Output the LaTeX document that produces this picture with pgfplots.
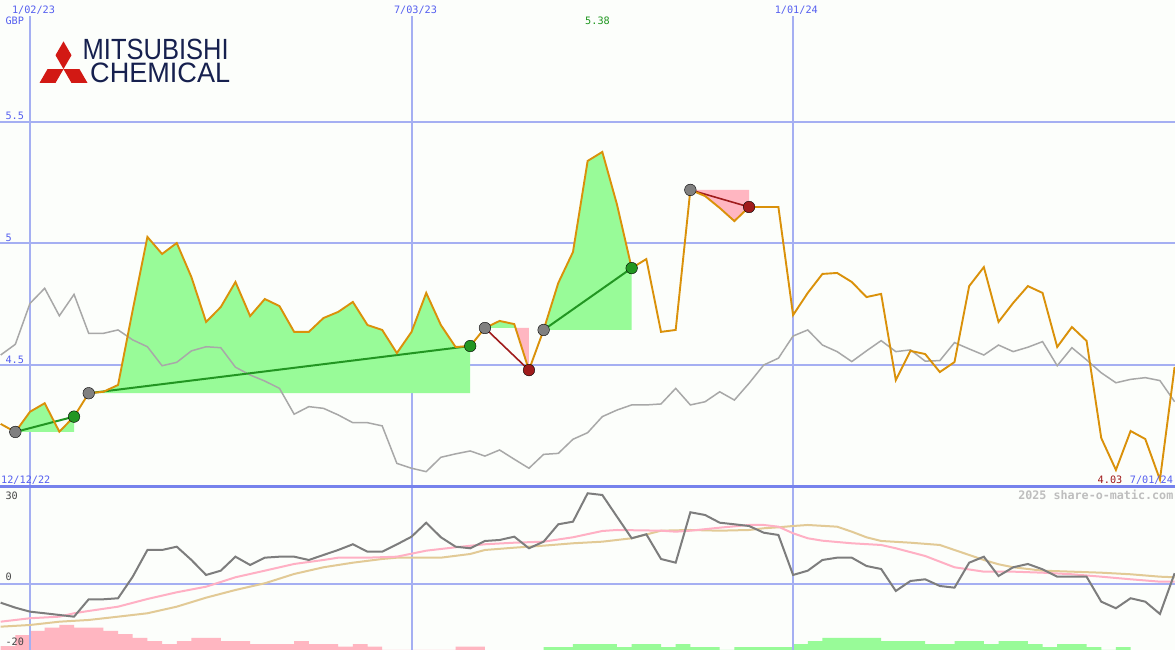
\documentclass[border=0pt]{standalone}
\usepackage{graphicx}
\usepackage{pgfplots}
\usepackage{pgfplotstable}
\pgfplotsset{compat=1.18}
\usepackage{fontspec}
\setmainfont{DejaVu Sans}
\newfontfamily\monofont{DejaVu Sans Mono}
\newfontfamily\logofont{Liberation Sans}

\definecolor{bg}{RGB}{252,254,251}
\definecolor{gridblue}{RGB}{165,175,242}
\definecolor{sepblue}{RGB}{118,130,236}
\definecolor{labelblue}{RGB}{85,95,240}
\definecolor{priceorange}{RGB}{218,145,10}
\definecolor{relgray}{RGB}{168,168,168}
\definecolor{gainfill}{RGB}{152,251,152}
\definecolor{lossfill}{RGB}{255,182,193}
\definecolor{gainline}{RGB}{34,150,34}
\definecolor{lossline}{RGB}{160,28,28}
\definecolor{dotgray}{RGB}{128,128,128}
\definecolor{momgray}{RGB}{125,125,125}
\definecolor{mapink}{RGB}{255,176,196}
\definecolor{matan}{RGB}{226,202,150}
\definecolor{logored}{RGB}{210,25,20}
\definecolor{logonavy}{RGB}{22,32,78}
\definecolor{maxgreen}{RGB}{30,150,30}
\definecolor{minred}{RGB}{160,25,25}
\definecolor{credit}{RGB}{190,190,190}
\definecolor{scalegray}{RGB}{70,70,70}

% weekly closes (GBP), week 0 = 2 Jan 2023; g = relative index line
\pgfplotstableread{
w p g
-2 4.259 4.542
-1 4.226 4.586
0 4.309 4.754
1 4.344 4.816
2 4.227 4.703
3 4.289 4.791
4 4.385 4.631
5 4.391 4.631
6 4.419 4.645
7 4.727 4.604
8 5.027 4.576
9 4.957 4.498
10 5.002 4.512
11 4.862 4.559
12 4.678 4.576
13 4.739 4.572
14 4.842 4.492
15 4.702 4.460
16 4.772 4.435
17 4.743 4.405
18 4.637 4.299
19 4.637 4.330
20 4.694 4.323
21 4.719 4.296
22 4.760 4.264
23 4.665 4.264
24 4.645 4.251
25 4.550 4.097
26 4.637 4.077
27 4.797 4.063
28 4.665 4.122
29 4.575 4.136
30 4.579 4.148
31 4.653 4.127
32 4.682 4.152
33 4.669 4.114
34 4.480 4.077
35 4.645 4.134
36 4.838 4.138
37 4.965 4.196
38 5.339 4.223
39 5.376 4.289
40 5.160 4.316
41 4.899 4.337
42 4.936 4.337
43 4.637 4.341
44 4.645 4.405
45 5.220 4.337
46 5.195 4.350
47 5.146 4.391
48 5.092 4.357
49 5.150 4.426
50 5.150 4.501
51 5.150 4.529
52 4.706 4.620
53 4.797 4.645
54 4.875 4.583
55 4.879 4.556
56 4.842 4.515
57 4.780 4.559
58 4.793 4.601
59 4.439 4.556
60 4.559 4.563
61 4.546 4.517
62 4.472 4.519
63 4.513 4.593
64 4.825 4.567
65 4.903 4.542
66 4.678 4.583
67 4.756 4.556
68 4.825 4.574
69 4.797 4.597
70 4.575 4.498
71 4.657 4.572
72 4.600 4.522
73 4.201 4.469
74 4.070 4.428
75 4.230 4.442
76 4.197 4.449
77 4.030 4.437
78 4.493 4.350
}\price

% momentum oscillator
\pgfplotstableread{
w m
-2 -5.76
-1 -7.27
0 -8.48
1 -8.97
2 -9.48
3 -10.0
4 -4.73
5 -4.73
6 -4.42
7 2.12
8 10.21
9 10.21
10 11.21
11 7.18
12 2.64
13 3.94
14 8.18
15 5.67
16 7.88
17 8.18
18 8.18
19 7.18
20 8.70
21 10.21
22 11.94
23 9.70
24 9.70
25 11.9
26 14.24
27 18.48
28 14.06
29 11.21
30 10.73
31 12.94
32 13.24
33 14.24
34 10.73
35 12.73
36 18.0
37 18.79
38 27.39
39 26.88
40 20.30
41 13.76
42 14.97
43 7.48
44 6.36
45 21.64
46 20.82
47 18.48
48 18.0
49 17.48
50 15.45
51 14.76
52 2.64
53 3.94
54 7.18
55 7.88
56 7.88
57 5.36
58 4.45
59 -2.21
60 0.82
61 1.33
62 -0.70
63 -1.21
64 6.36
65 8.18
66 2.33
67 4.97
68 5.97
69 4.36
70 2.12
71 2.12
72 2.12
73 -5.45
74 -7.45
75 -4.42
76 -5.45
77 -9.18
78 3.15
}\momentum

% fast average of the oscillator
\pgfplotstableread{
w a
-2 -11.52
0 -10.48
2 -10.0
3 -8.97
4 -8.27
6 -6.97
8 -4.64
10 -2.61
12 -0.91
14 1.94
16 3.94
18 5.97
20 7.18
21 7.88
23 7.88
25 8.18
27 10.0
29 11.03
31 11.94
33 12.42
35 12.73
37 14.06
39 15.97
40 16.27
43 16.06
44 15.76
45 16.06
47 16.97
49 17.79
50 17.79
51 17.27
52 15.27
53 13.76
54 13.03
56 12.24
58 11.73
59 10.73
61 8.39
63 4.97
65 3.64
67 3.64
69 3.33
71 2.85
73 2.12
75 1.33
77 0.61
78 0.61
}\fastavg

% slow average of the oscillator
\pgfplotstableread{
w a
-2 -13.03
0 -12.52
2 -11.52
4 -11.0
6 -10.0
8 -8.97
10 -6.97
12 -4.24
14 -1.91
16 0.12
18 2.94
20 4.97
22 6.36
24 7.48
25 7.88
28 7.88
30 9.0
31 10.21
33 10.91
35 11.52
37 12.24
39 12.73
41 13.76
43 16.06
45 16.27
47 16.06
49 16.27
50 16.79
51 17.09
52 17.48
53 17.79
55 17.27
56 15.76
57 14.06
58 12.94
60 12.42
62 11.73
63 10.21
64 8.70
65 7.18
66 5.88
67 4.97
69 3.94
71 3.64
73 3.33
75 2.85
77 2.12
78 1.94
}\slowavg

% histogram, negative phase
\pgfplotstableread{
k h
-2 1.2
-1 4.5
0 5.8
1 6.8
2 7.6
3 6.8
4 6.8
5 5.8
6 4.8
7 3.7
8 2.7
9 1.8
10 2.7
11 3.7
12 3.7
13 2.7
14 2.7
15 1.8
16 1.8
17 1.8
18 2.7
19 1.8
20 1.8
21 1.0
22 1.8
23 1.0
24 0
25 0
26 0
27 0
28 0
29 1.0
30 1.0
31 0
}\negbars

% histogram, positive phase
\pgfplotstableread{
k h
35 0.9
36 0.9
37 1.8
38 1.8
39 1.8
40 0.9
41 1.8
42 1.8
43 0.9
44 1.8
45 0.9
46 0.9
47 0
48 0.9
49 0.9
50 0.9
51 0.9
52 1.8
53 2.7
54 3.7
55 3.7
56 3.7
57 3.7
58 2.7
59 2.7
60 2.7
61 1.8
62 1.8
63 2.7
64 2.7
65 1.8
66 2.7
67 2.7
68 1.8
69 0.9
70 1.8
71 1.8
72 0.9
73 0
74 0.9
75 0
}\posbars

\pgfplotsset{
  panel/.style={scale only axis, width=1175pt, xmin=-2.045, xmax=78.03,
    hide axis, clip=true},
}
\tikzset{
  lbl/.style={font=\monofont\fontsize{10.2}{12}\selectfont, inner sep=0pt},
  vgrid/.style={draw=gridblue, line width=2pt},
}

\begin{document}
\begin{tikzpicture}[x=1pt,y=1pt]
\useasboundingbox (0,0) rectangle (1175,650);
\fill[bg] (0,0) rectangle (1175,650);

% ---------------- price panel ----------------
\begin{axis}[panel, at={(0pt,163pt)}, anchor=south west, height=487pt,
  ymin=4, ymax=6]
  \draw[gridblue, line width=2pt] (axis cs:-3,5.5) -- (axis cs:80,5.5);
  \draw[gridblue, line width=2pt] (axis cs:-3,5.0) -- (axis cs:80,5.0);
  \draw[gridblue, line width=2pt] (axis cs:-3,4.5) -- (axis cs:80,4.5);
  \draw[vgrid] (axis cs:0.02,3.9) -- (axis cs:0.02,5.934);
  \draw[vgrid] (axis cs:26.03,3.9) -- (axis cs:26.03,5.934);
  \draw[vgrid] (axis cs:52.02,3.9) -- (axis cs:52.02,5.934);

  % areas between each trade's price path and its entry level
  \addplot[fill=gainfill, draw=none] coordinates
    {(-1,4.226) (0,4.309) (1,4.344) (2,4.227) (3,4.289) (3,4.226)} -- cycle;
  \addplot[fill=gainfill, draw=none] coordinates
    {(4,4.385) (5,4.391) (6,4.419) (7,4.727) (8,5.027) (9,4.957) (10,5.002)
     (11,4.862) (12,4.678) (13,4.739) (14,4.842) (15,4.702) (16,4.772)
     (17,4.743) (18,4.637) (19,4.637) (20,4.694) (21,4.719) (22,4.760)
     (23,4.665) (24,4.645) (25,4.550) (26,4.637) (27,4.797) (28,4.665)
     (29,4.575) (30,4.579) (30,4.385)} -- cycle;
  \addplot[fill=gainfill, draw=none] coordinates
    {(31,4.653) (32,4.682) (33,4.669) (33.085,4.653)} -- cycle;
  \addplot[fill=lossfill, draw=none] coordinates
    {(33.085,4.653) (34,4.480) (34,4.653)} -- cycle;
  \addplot[fill=gainfill, draw=none] coordinates
    {(35,4.645) (36,4.838) (37,4.965) (38,5.339) (39,5.376) (40,5.160)
     (41,4.899) (41,4.645)} -- cycle;
  \addplot[fill=lossfill, draw=none] coordinates
    {(45,5.220) (46,5.195) (47,5.146) (48,5.092) (49,5.150) (49,5.220)} -- cycle;

  % relative index
  \addplot[relgray, line width=1.5pt] table[x=w,y=g]{\price};

  % trades: entry to exit
  \addplot[gainline, line width=2pt] coordinates {(-1,4.226) (3,4.289)};
  \addplot[gainline, line width=2pt] coordinates {(4,4.385) (30,4.579)};
  \addplot[lossline, line width=1.6pt] coordinates {(31,4.653) (34,4.480)};
  \addplot[gainline, line width=2pt] coordinates {(35,4.645) (41,4.899)};
  \addplot[lossline, line width=1.6pt] coordinates {(45,5.220) (49,5.150)};

  \addplot[only marks, mark=*, mark size=5.8pt, mark options={draw=none, fill=dotgray}]
    coordinates {(-1,4.226) (4,4.385) (31,4.653) (35,4.645) (45,5.220)};
  \addplot[only marks, mark=*, mark size=5.8pt, mark options={draw=none, fill=gainline}]
    coordinates {(3,4.289) (30,4.579) (41,4.899)};
  \addplot[only marks, mark=*, mark size=5.8pt, mark options={draw=none, fill=lossline}]
    coordinates {(34,4.480) (49,5.150)};

  % price
  \addplot[priceorange, line width=1.9pt] table[x=w,y=p]{\price};
\end{axis}

% ---------------- oscillator panel ----------------
\begin{axis}[panel, at={(0pt,0pt)}, anchor=south west, height=163pt,
  ymin=0, ymax=49.39]
  \addplot[const plot, fill=lossfill, draw=none] table[x=k,y=h]{\negbars} \closedcycle;
  \addplot[const plot, fill=gainfill, draw=none] table[x=k,y=h]{\posbars} \closedcycle;
\end{axis}

\begin{axis}[panel, at={(0pt,0pt)}, anchor=south west, height=163pt,
  ymin=-20.1, ymax=29.3]
  \draw[gridblue, line width=2pt] (axis cs:-3,0) -- (axis cs:80,0);
  \draw[vgrid] (axis cs:0.02,-25) -- (axis cs:0.02,35);
  \draw[vgrid] (axis cs:26.03,-25) -- (axis cs:26.03,35);
  \draw[vgrid] (axis cs:52.02,-25) -- (axis cs:52.02,35);
  \addplot[matan, line width=2pt] table[x=w,y=a]{\slowavg};
  \addplot[mapink, line width=2pt] table[x=w,y=a]{\fastavg};
  \addplot[momgray, line width=2pt] table[x=w,y=m]{\momentum};
\end{axis}

% panel separator
\draw[sepblue, line width=3pt] (0,163.3) -- (1175,163.3);

% logo
\fill[logored] (63.5,580.9) -- ++(8,13.86) -- ++(-8,13.86) -- ++(-8,-13.86) -- cycle;
\fill[logored] (63.5,580.9) -- ++(-8,-13.86) -- ++(-16,0) -- ++(8,13.86) -- cycle;
\fill[logored] (63.5,580.9) -- ++(16,0) -- ++(8,-13.86) -- ++(-16,0) -- cycle;
\node[anchor=south west, inner sep=0pt, text=logonavy] at (82.5,589.6)
  {\resizebox{146pt}{20.4pt}{\logofont MITSUBISHI}};
\node[anchor=south west, inner sep=0pt, text=logonavy] at (90,567)
  {\resizebox{140pt}{19.6pt}{\logofont CHEMICAL}};

% date and scale labels
\node[lbl, text=labelblue, anchor=base] at (33.5,636.7) {1/02/23};
\node[lbl, text=labelblue, anchor=base] at (415.5,636.7) {7/03/23};
\node[lbl, text=labelblue, anchor=base] at (796.3,636.7) {1/01/24};
\node[lbl, text=labelblue, anchor=base west] at (5.3,625) {GBP};
\node[lbl, text=labelblue, anchor=base west] at (5.3,530) {5.5};
\node[lbl, text=labelblue, anchor=base west] at (5.3,408.3) {5};
\node[lbl, text=labelblue, anchor=base west] at (5.3,286.7) {4.5};
\node[lbl, text=labelblue, anchor=base west] at (1,166.7) {12/12/22};
\node[lbl, text=maxgreen, anchor=base] at (597.5,625) {5.38};
\node[lbl, text=minred, anchor=base] at (1110,166.7) {4.03};
\node[lbl, text=labelblue, anchor=base] at (1151.4,166.7) {7/01/24};
\node[lbl, text=scalegray, anchor=base west] at (5.3,150.7) {30};
\node[lbl, text=scalegray, anchor=base west] at (5.3,69.3) {0};
\node[lbl, text=scalegray, anchor=base west] at (5.3,4) {-20};
\node[inner sep=0pt, anchor=base east, text=credit,
  font=\monofont\bfseries\fontsize{11.7}{13}\selectfont] at (1173.5,150) {2025 share-o-matic.com};
\end{tikzpicture}
\end{document}
